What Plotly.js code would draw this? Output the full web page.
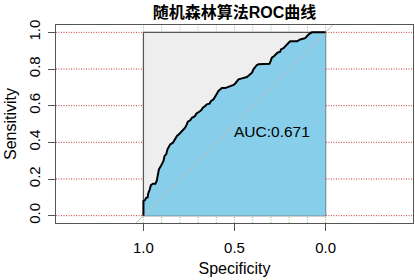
<!DOCTYPE html>
<html>
<head>
<meta charset="utf-8">
<script src="https://cdn.plot.ly/plotly-3.0.1.min.js"></script>
<style>html,body{margin:0;padding:0;background:#fff;}#chart{width:415px;height:280px;}</style>
</head>
<body>
<div id="chart"></div>
<script>
// ROC curve points (specificity, sensitivity)
const specificity = [1.000,1.000,0.992,0.985,0.977,0.974,0.965,0.959,0.947,0.934,0.927,0.922,0.915,0.904,0.897,0.890,0.884,0.875,0.868,0.853,0.838,0.826,0.816,0.802,0.789,0.780,0.771,0.762,0.756,0.743,0.734,0.725,0.716,0.710,0.698,0.688,0.679,0.674,0.661,0.652,0.637,0.630,0.615,0.606,0.597,0.588,0.579,0.569,0.551,0.535,0.514,0.505,0.496,0.487,0.478,0.459,0.432,0.422,0.414,0.404,0.396,0.377,0.368,0.331,0.308,0.300,0.295,0.282,0.271,0.264,0.249,0.245,0.231,0.221,0.209,0.203,0.194,0.157,0.139,0.112,0.101,0.093,0.075,0.000];
const sensitivity = [0.000,0.080,0.084,0.097,0.099,0.120,0.144,0.166,0.174,0.174,0.189,0.216,0.253,0.271,0.284,0.298,0.326,0.335,0.362,0.389,0.398,0.417,0.435,0.447,0.462,0.471,0.480,0.498,0.513,0.520,0.534,0.538,0.544,0.556,0.562,0.571,0.580,0.589,0.598,0.607,0.611,0.625,0.635,0.647,0.665,0.680,0.689,0.696,0.696,0.702,0.707,0.713,0.721,0.732,0.744,0.749,0.756,0.764,0.771,0.780,0.798,0.822,0.826,0.826,0.829,0.847,0.862,0.871,0.880,0.889,0.894,0.907,0.913,0.925,0.935,0.943,0.951,0.951,0.961,0.968,0.980,0.989,1.000,1.000];
const aucText = "AUC:0.671";
const xTicks = [1.0, 0.5, 0.0];
const yTicks = [0.0, 0.2, 0.4, 0.6, 0.8, 1.0];
const xGrid = [0.0, 0.1, 0.2, 0.3, 0.4, 0.5, 0.6, 0.7, 0.8, 0.9, 1.0];
const yGrid = [0.0, 0.2, 0.4, 0.6, 0.8, 1.0];
const titleText = "随机森林算法ROC曲线";

const FONT = "Liberation Sans, Arial, Noto Sans CJK SC, sans-serif";

const boxTrace = {
  x: [1, 0, 0, 1, 1], y: [0, 0, 1, 1, 0],
  mode: 'lines', fill: 'toself', fillcolor: '#EEEEEE',
  line: {color: '#555555', width: 1.2}, hoverinfo: 'skip', showlegend: false
};
const areaTrace = {
  x: specificity.concat([0, 1]), y: sensitivity.concat([0, 0]),
  mode: 'lines', fill: 'toself', fillcolor: '#87CEEB',
  line: {width: 0}, hoverinfo: 'skip', showlegend: false
};
const diagTrace = {
  x: [1.04, -0.04], y: [-0.04, 1.04], mode: 'lines',
  line: {color: '#C0C0C0', width: 1}, hoverinfo: 'skip', showlegend: false
};
const curveTrace = {
  x: specificity, y: sensitivity, mode: 'lines',
  line: {color: '#000000', width: 2}, hoverinfo: 'skip', showlegend: false
};

const shapes = [];
yGrid.forEach(v => shapes.push({type: 'line', layer: 'below', xref: 'paper', yref: 'y', x0: 0, x1: 1, y0: v, y1: v,
  line: {color: '#CC3333', width: 1, dash: '1px,1.5px'}}));
xGrid.forEach(v => shapes.push({type: 'line', layer: 'below', xref: 'x', yref: 'paper', x0: v, x1: v, y0: 0, y1: 1,
  line: {color: '#77CC77', width: 1, dash: '1px,1.5px'}}));

const layout = {
  width: 415, height: 280,
  margin: {l: 56, r: 2, t: 25, b: 57},
  paper_bgcolor: '#ffffff', plot_bgcolor: '#ffffff',
  font: {family: FONT, color: '#000000', size: 15},
  title: {text: '<b>' + titleText + '</b>', font: {family: "Liberation Sans, Noto Sans CJK SC, sans-serif", size: 16, color: '#000'},
          x: 0.5, xref: 'paper', y: 1 - 12/280, yref: 'container', yanchor: 'middle'},
  xaxis: {
    range: [1.48, -0.48], tickvals: xTicks, tickformat: '.1f',
    ticks: 'outside', ticklen: 7, tickcolor: '#555', tickwidth: 1,
    showline: true, mirror: true, linecolor: '#555', linewidth: 1,
    zeroline: false, showgrid: false, ticklabelstandoff: 4,
    title: {text: 'Specificity', font: {size: 16}, standoff: 7},
    tickfont: {size: 15}, fixedrange: true
  },
  yaxis: {
    range: [-0.04, 1.04], tickvals: yTicks, tickformat: '.1f', tickangle: -90,
    ticks: 'outside', ticklen: 7, tickcolor: '#555', tickwidth: 1,
    showline: true, mirror: true, linecolor: '#555', linewidth: 1,
    zeroline: false, showgrid: false, ticklabelstandoff: 2,
    title: {text: 'Sensitivity', font: {size: 16}, standoff: 5},
    tickfont: {size: 15}, fixedrange: true
  },
  shapes: shapes,
  annotations: [{
    x: 0.5, y: 0.5, xref: 'x', yref: 'y', text: aucText, showarrow: false,
    xanchor: 'left', yanchor: 'top', xshift: -3, yshift: 3, font: {size: 15.5, color: '#000'}
  }]
};

Plotly.newPlot('chart', [boxTrace, areaTrace, diagTrace, curveTrace], layout, {staticPlot: true, displayModeBar: false});
</script>
</body>
</html>
